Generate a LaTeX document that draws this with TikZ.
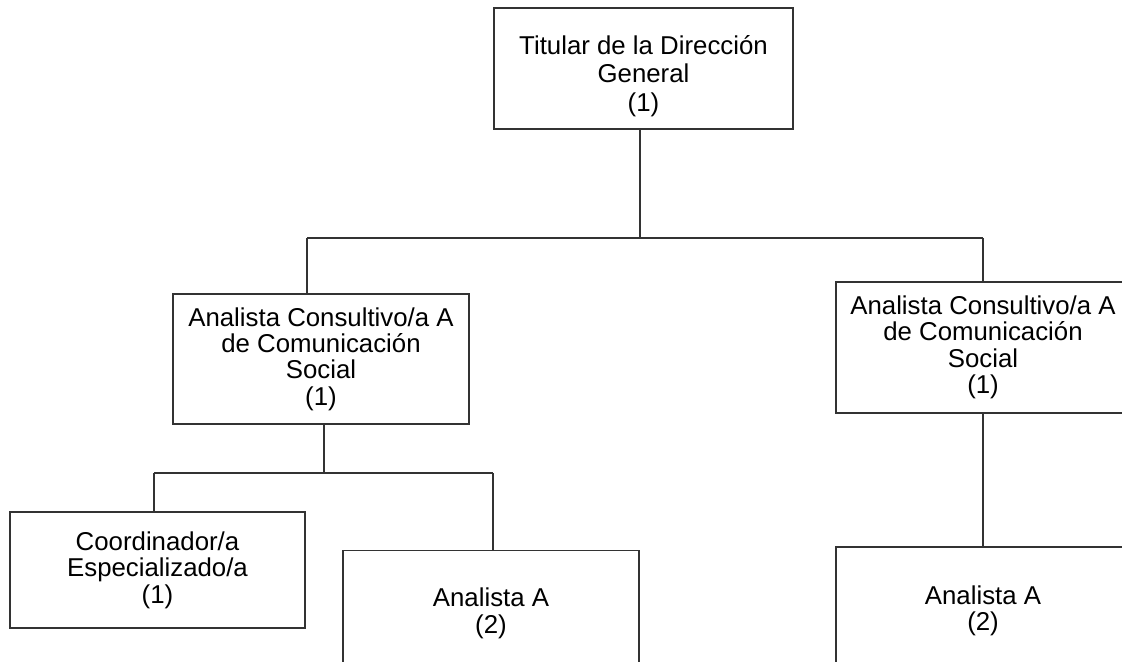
\documentclass[tikz,border=0pt]{standalone}
\usepackage{fontspec}
\setmainfont{Liberation Sans}
\usetikzlibrary{positioning}

\begin{document}
\begin{tikzpicture}[x=0.5pt, y=-0.5pt, line width=0.7pt, draw=black!80,
        font=\fontsize{12.9}{13.2}\selectfont]
        \tikzstyle{puesto}=[draw, rectangle, align=center, inner sep=0pt]
        \useasboundingbox (0,0) rectangle (1122,662);
        \clip (0,0) rectangle (1122,662);
        % cajas
        \node[puesto, minimum width=149.5pt, minimum height=60.5pt,
            font=\fontsize{12.9}{14.3}\selectfont] (tit) at (643.5,68.5)
            {\rule{0pt}{17pt}Titular de la Dirección\\General\\(1)};
        \node[puesto, minimum width=148pt, minimum height=65pt] (acl) at (321,359)
            {Analista Consultivo/a A\\de Comunicación\\Social\\(1)};
        \node[puesto, minimum width=147pt, minimum height=65.5pt] (acr) at (983,347.5)
            {Analista Consultivo/a A\\de Comunicación\\Social\\(1)};
        \node[puesto, minimum width=147.5pt, minimum height=58pt] (coo) at (157.5,570)
            {Coordinador/a\\Especializado/a\\(1)};
        \node[puesto, minimum width=148pt, minimum height=63pt] (anl) at (491,613.5)
            {Analista A\\(2)};
        \node[puesto, minimum width=147pt, minimum height=64pt] (anr) at (983,611)
            {Analista A\\(2)};
        % uniones
        \coordinate (j1) at (640,238);
        \coordinate (j1l) at (307,238);
        \coordinate (j1r) at (983,238);
        \coordinate (j2) at (324,473);
        \coordinate (j2l) at (154,473);
        \coordinate (j2r) at (493,473);
        \draw (j1 |- tit.south) -- (j1);
        \draw (j1l) -- (j1r);
        \draw (j1l) -- (j1l |- acl.north);
        \draw (j1r) -- (acr.north);
        \draw (j2 |- acl.south) -- (j2);
        \draw (j2l) -- (j2r);
        \draw (j2l) -- (j2l |- coo.north);
        \draw (j2r) -- (j2r |- anl.north);
        \draw (acr.south) -- (anr.north);
\end{tikzpicture}
\end{document}
